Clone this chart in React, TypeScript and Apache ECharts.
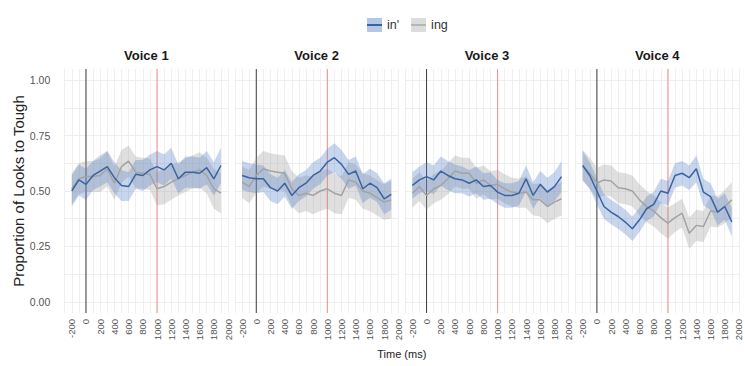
import React, { useEffect, useRef } from 'react';
import * as echarts from 'echarts';

const times = [-200, -100, 0, 100, 200, 300, 400, 500, 600, 700, 800, 900, 1000, 1100, 1200, 1300, 1400, 1500, 1600, 1700, 1800, 1900];
const voiceLabels = ['Voice 1', 'Voice 2', 'Voice 3', 'Voice 4'];
const xLabelValues = [-200, 0, 200, 400, 600, 800, 1000, 1200, 1400, 1600, 1800, 2000];
const xGridValues = [-300, -200, -100, 0, 100, 200, 300, 400, 500, 600, 700, 800, 900, 1000, 1100, 1200, 1300, 1400, 1500, 1600, 1700, 1800, 1900, 2000];
const yLabelValues = [0, 0.25, 0.5, 0.75, 1];
const yGridValues = [0, 0.125, 0.25, 0.375, 0.5, 0.625, 0.75, 0.875, 1];
const onsetTime = 0;
const targetTime = 1000;

// in' (blue) means per voice
const inV1 = [0.50, 0.55, 0.53, 0.57, 0.59, 0.61, 0.56, 0.525, 0.52, 0.575, 0.57, 0.595, 0.61, 0.595, 0.625, 0.555, 0.585, 0.585, 0.58, 0.605, 0.555, 0.615];
const inV2 = [0.57, 0.56, 0.555, 0.555, 0.515, 0.50, 0.535, 0.48, 0.515, 0.535, 0.57, 0.59, 0.63, 0.65, 0.62, 0.575, 0.59, 0.51, 0.535, 0.515, 0.465, 0.485];
const inV3 = [0.525, 0.55, 0.565, 0.55, 0.59, 0.57, 0.555, 0.55, 0.535, 0.55, 0.52, 0.525, 0.495, 0.48, 0.48, 0.49, 0.555, 0.48, 0.53, 0.495, 0.52, 0.565];
const inV4 = [0.615, 0.57, 0.50, 0.43, 0.405, 0.385, 0.36, 0.33, 0.37, 0.42, 0.44, 0.50, 0.49, 0.57, 0.58, 0.56, 0.60, 0.495, 0.475, 0.405, 0.43, 0.36];

// ing (grey) means per voice
const ingV1 = [0.51, 0.555, 0.565, 0.565, 0.57, 0.60, 0.535, 0.61, 0.635, 0.585, 0.58, 0.575, 0.51, 0.52, 0.54, 0.555, 0.57, 0.585, 0.595, 0.57, 0.51, 0.49];
const ingV2 = [0.54, 0.52, 0.57, 0.60, 0.59, 0.585, 0.58, 0.51, 0.48, 0.49, 0.48, 0.50, 0.51, 0.49, 0.48, 0.55, 0.54, 0.50, 0.49, 0.47, 0.45, 0.46];
const ingV3 = [0.49, 0.52, 0.48, 0.51, 0.525, 0.555, 0.59, 0.58, 0.58, 0.535, 0.55, 0.525, 0.53, 0.51, 0.495, 0.49, 0.495, 0.46, 0.46, 0.43, 0.45, 0.465];
const ingV4 = [0.615, 0.58, 0.535, 0.55, 0.545, 0.515, 0.51, 0.50, 0.46, 0.43, 0.41, 0.38, 0.355, 0.38, 0.40, 0.31, 0.345, 0.34, 0.41, 0.405, 0.43, 0.46];

// confidence band half-widths
const inCiV1 = [0.07, 0.07, 0.07, 0.065, 0.07, 0.07, 0.07, 0.07, 0.065, 0.065, 0.07, 0.07, 0.07, 0.07, 0.07, 0.065, 0.07, 0.07, 0.07, 0.075, 0.075, 0.08];
const inCiV2 = [0.065, 0.065, 0.065, 0.06, 0.06, 0.06, 0.06, 0.06, 0.06, 0.06, 0.06, 0.06, 0.06, 0.065, 0.065, 0.065, 0.065, 0.065, 0.065, 0.065, 0.07, 0.07];
const inCiV3 = [0.06, 0.06, 0.065, 0.065, 0.065, 0.065, 0.065, 0.06, 0.06, 0.06, 0.06, 0.06, 0.055, 0.055, 0.055, 0.055, 0.06, 0.06, 0.06, 0.065, 0.065, 0.07];
const inCiV4 = [0.065, 0.06, 0.06, 0.055, 0.055, 0.055, 0.055, 0.055, 0.055, 0.055, 0.055, 0.055, 0.055, 0.055, 0.055, 0.055, 0.06, 0.06, 0.06, 0.06, 0.06, 0.065];
const ingCiV1 = [0.07, 0.07, 0.07, 0.07, 0.075, 0.08, 0.075, 0.075, 0.07, 0.07, 0.07, 0.07, 0.075, 0.08, 0.08, 0.075, 0.075, 0.075, 0.08, 0.08, 0.09, 0.09];
const ingCiV2 = [0.07, 0.075, 0.08, 0.08, 0.08, 0.08, 0.08, 0.08, 0.08, 0.08, 0.085, 0.09, 0.09, 0.09, 0.085, 0.08, 0.08, 0.08, 0.08, 0.08, 0.08, 0.085];
const ingCiV3 = [0.065, 0.065, 0.065, 0.065, 0.065, 0.07, 0.07, 0.07, 0.07, 0.07, 0.065, 0.065, 0.065, 0.065, 0.065, 0.065, 0.07, 0.07, 0.075, 0.075, 0.075, 0.075];
const ingCiV4 = [0.07, 0.07, 0.07, 0.07, 0.07, 0.07, 0.07, 0.07, 0.07, 0.07, 0.07, 0.07, 0.07, 0.065, 0.065, 0.07, 0.07, 0.07, 0.07, 0.07, 0.075, 0.08];

const inMeans = [inV1, inV2, inV3, inV4];
const ingMeans = [ingV1, ingV2, ingV3, ingV4];
const inCis = [inCiV1, inCiV2, inCiV3, inCiV4];
const ingCis = [ingCiV1, ingCiV2, ingCiV3, ingCiV4];

const FONT = '"Liberation Sans", Arial, Helvetica, sans-serif';
const BLUE = '#3a63a3';
const BLUE_FILL = 'rgba(80,125,200,0.32)';
const GREY = '#a3a3a3';
const GREY_FILL = 'rgba(150,150,150,0.3)';

const PANEL_LEFT0 = 64.3;
const PANEL_STEP = 170.3;
const PANEL_W = 164.1;
const PANEL_TOP = 69;
const PANEL_H = 244;

function svgIcon(fill: string, line: string) {
  const svg = `<svg xmlns="http://www.w3.org/2000/svg" width="15" height="14"><rect width="15" height="14" fill="${fill}"/><rect y="6" width="15" height="2" fill="${line}"/></svg>`;
  return 'image://data:image/svg+xml;charset=utf-8,' + encodeURIComponent(svg);
}

function ribbon(gi: number, mean: number[], hw: number[], fill: string, z: number) {
  const data = times.map((t, i) => [t, mean[i] - hw[i], mean[i] + hw[i]]);
  return {
    type: 'custom',
    xAxisIndex: gi,
    yAxisIndex: gi,
    silent: true,
    z,
    data,
    encode: { x: 0, y: [1, 2] },
    renderItem: (params: any, api: any) => {
      if (params.dataIndex !== 0) return null;
      const upper = data.map((d) => api.coord([d[0], d[2]]));
      const lower = data.map((d) => api.coord([d[0], d[1]])).reverse();
      return {
        type: 'polygon',
        shape: { points: upper.concat(lower) },
        style: { fill, stroke: 'none' },
        silent: true,
      };
    },
  };
}

export default function App() {
  const ref = useRef<HTMLDivElement>(null);
  useEffect(() => {
    if (!ref.current) return;
    const chart = echarts.init(ref.current, undefined, { renderer: 'svg' });
    const grids: any[] = [];
    const xAxes: any[] = [];
    const yAxes: any[] = [];
    const series: any[] = [];
    const graphics: any[] = [];
    voiceLabels.forEach((label, gi) => {
      const left = PANEL_LEFT0 + PANEL_STEP * gi;
      grids.push({ left, top: PANEL_TOP, width: PANEL_W, height: PANEL_H, containLabel: false });
      xAxes.push({
        type: 'value',
        gridIndex: gi,
        min: -305,
        max: 2005,
        axisLine: { show: false },
        axisTick: { show: false, customValues: xGridValues },
        axisLabel: {
          customValues: xLabelValues,
          formatter: (v: number) => String(v),
          rotate: 90,
          fontSize: 9.5,
          color: '#555',
          margin: 6,
          fontFamily: FONT,
        },
        splitLine: { show: true, lineStyle: { color: '#ebebeb', width: 0.8 } },
      });
      yAxes.push({
        type: 'value',
        gridIndex: gi,
        min: -0.05,
        max: 1.05,
        axisLine: { show: false },
        axisTick: { show: false, customValues: yGridValues },
        axisLabel: {
          show: gi === 0,
          customValues: yLabelValues,
          formatter: (v: number) => v.toFixed(2),
          fontSize: 10.5,
          color: '#555',
          margin: 14,
          fontFamily: FONT,
        },
        splitLine: { show: true, lineStyle: { color: '#ebebeb', width: 0.8 } },
        name: gi === 0 ? 'Proportion of Looks to Tough' : '',
        nameLocation: 'middle',
        nameGap: 38,
        nameTextStyle: { fontSize: 15, color: '#222', fontFamily: FONT },
      });
      series.push({
        type: 'line',
        xAxisIndex: gi,
        yAxisIndex: gi,
        data: [[onsetTime, -0.05], [onsetTime, 1.05]],
        showSymbol: false,
        silent: true,
        z: 1,
        lineStyle: { color: '#3d3d3d', width: 1 },
      });
      series.push({
        type: 'line',
        xAxisIndex: gi,
        yAxisIndex: gi,
        data: [[targetTime, -0.05], [targetTime, 1.05]],
        showSymbol: false,
        silent: true,
        z: 1,
        lineStyle: { color: '#f28b8b', width: 1 },
      });
      series.push(ribbon(gi, ingMeans[gi], ingCis[gi], GREY_FILL, 2));
      series.push(ribbon(gi, inMeans[gi], inCis[gi], BLUE_FILL, 3));
      series.push({
        type: 'line',
        name: 'ing',
        xAxisIndex: gi,
        yAxisIndex: gi,
        data: times.map((t, i) => [t, ingMeans[gi][i]]),
        showSymbol: false,
        z: 4,
        color: GREY,
        lineStyle: { color: GREY, width: 1.5 },
      });
      series.push({
        type: 'line',
        name: "in'",
        xAxisIndex: gi,
        yAxisIndex: gi,
        data: times.map((t, i) => [t, inMeans[gi][i]]),
        showSymbol: false,
        z: 5,
        color: BLUE,
        lineStyle: { color: BLUE, width: 1.5 },
      });
      graphics.push({
        type: 'text',
        x: left + PANEL_W / 2,
        y: 55,
        style: {
          text: label,
          fontSize: 13,
          fontWeight: 'bold',
          fill: '#1a1a1a',
          fontFamily: FONT,
          align: 'center',
          verticalAlign: 'middle',
        },
      });
    });
    graphics.push({
      type: 'text',
      x: PANEL_LEFT0 + (PANEL_STEP * 3 + PANEL_W) / 2,
      y: 354,
      style: {
        text: 'Time (ms)',
        fontSize: 11,
        fill: '#222',
        fontFamily: FONT,
        align: 'center',
        verticalAlign: 'middle',
      },
    });
    chart.setOption({
      animation: false,
      backgroundColor: '#ffffff',
      grid: grids,
      xAxis: xAxes,
      yAxis: yAxes,
      legend: {
        left: 362,
        top: 13,
        itemWidth: 15,
        itemHeight: 14,
        itemGap: 12,
        selectedMode: false,
        textStyle: { fontSize: 12.5, color: '#333', fontFamily: FONT },
        data: [
          { name: "in'", icon: svgIcon('#b3c7e7', BLUE) },
          { name: 'ing', icon: svgIcon('#dcdcdc', '#b5b5b5') },
        ],
      },
      graphic: graphics,
      series,
    });
    return () => chart.dispose();
  }, []);
  return (
    <div
      ref={ref}
      style={{ position: 'fixed', left: 0, top: 0, width: 744, height: 366 }}
    />
  );
}
